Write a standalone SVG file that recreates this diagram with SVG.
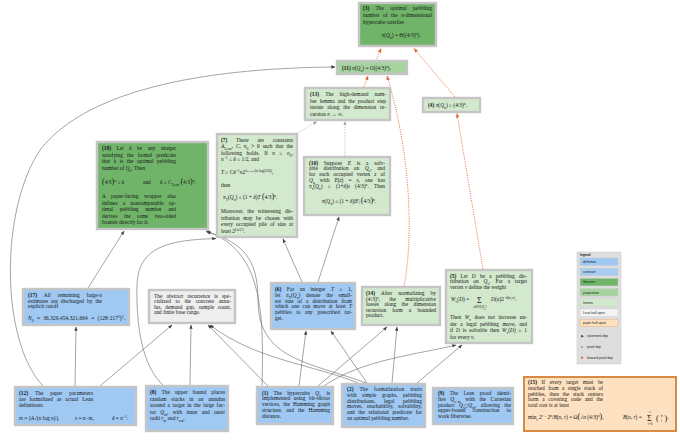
<svg xmlns="http://www.w3.org/2000/svg" width="680" height="440" viewBox="0 0 680 440">
<style>
.t{font-family:"Liberation Serif","Times New Roman",serif;font-size:5.4px;fill:#151515}
.b{font-weight:bold}
.i{font-style:italic}
.sb{font-size:3.7px;baseline-shift:sub}
.sp{font-size:3.7px;baseline-shift:super}
.sm{font-size:3.5px}
.big{font-size:8px}
.box{stroke:#c5c5c5;stroke-width:2.4}
.thm{fill:#70b46a}
.prop{fill:#a6d49e}
.lem{fill:#d3e9ce}
.def{fill:#9fc8f3}
.lean{fill:#eeeeee}
.paper{fill:#fde1c0;stroke:#d98a45;stroke-width:2}
.dep{fill:none;stroke:#585858;stroke-width:0.55;marker-end:url(#ah)}
.fwd{fill:none;stroke:#e4683a;stroke-width:0.95;stroke-dasharray:1 1.3;marker-end:url(#ahr)}
.sd{fill:none;stroke:#b3b3b3;stroke-width:0.7;stroke-dasharray:1.6 1.2;marker-end:url(#ahg)}
.lg{font-family:"Liberation Sans",Arial,sans-serif;font-size:3.3px;fill:#222}
</style>
<defs>
<marker id="ah" viewBox="0 0 10 10" refX="9" refY="5" markerWidth="4.2" markerHeight="4.2" markerUnits="userSpaceOnUse" orient="auto"><path d="M0,1 L10,5 L0,9 z" fill="#444"/></marker>
<marker id="ahr" viewBox="0 0 10 10" refX="9" refY="5" markerWidth="4.6" markerHeight="4.6" markerUnits="userSpaceOnUse" orient="auto"><path d="M0,1 L10,5 L0,9 z" fill="#e4683a"/></marker>
<marker id="ahg" viewBox="0 0 10 10" refX="9" refY="5" markerWidth="4.2" markerHeight="4.2" markerUnits="userSpaceOnUse" orient="auto"><path d="M0,1 L10,5 L0,9 z" fill="#a8a8a8"/></marker>
</defs>
<rect x="0" y="0" width="680" height="440" fill="#ffffff"/>

<g id="connectors">
<path class="fwd" d="M376,61 L381,48.5"/>
<path class="fwd" d="M455,97 L414,48.5"/>
<path class="fwd" d="M364,87 L368,76"/>
<path class="fwd" d="M404,286 C414,235 410,150 387,76"/>
<path class="fwd" d="M483,269 L457,113.5"/>
<path class="dep" d="M43,386 C0,340 0,210 40,150 C90,85 220,68 335,67"/>
<path class="dep" d="M75,386 L76,327"/>
<path class="dep" d="M100,386 L172,325"/>
<path class="dep" d="M88,288 L124,231"/>
<path class="dep" d="M190,385 L191,325"/>
<path class="dep" d="M268,386 L208,325"/>
<path class="dep" d="M358,383 C315,365 255,360 210,325"/>
<path class="dep" d="M262,386 C264,310 262,250 206,231"/>
<path class="dep" d="M366,383 C310,362 258,360 258,300 C258,258 242,242 207,232"/>
<path class="dep" d="M164,386 C141,366 136,322 137,285 C138,247 168,240 216,238.5"/>
<path class="dep" d="M299,386 L306,331"/>
<path class="dep" d="M367,383 L331,331"/>
<path class="dep" d="M318,386 L387,327"/>
<path class="dep" d="M392,383 L397,327"/>
<path class="dep" d="M324,386 C360,360 420,354 456,345"/>
<path class="dep" d="M417,383 L462,345"/>
<path class="dep" d="M302,282 L283,239"/>
<path class="dep" d="M318,282 L339,217"/>
<path class="sd" d="M296,134 L317,121.5"/>
<path class="sd" d="M345,156 L345,121.5"/>
</g>

<g id="n3">
<rect class="box thm" x="359" y="3" width="77" height="43"/>
<text class="t" x="363" y="9.5" word-spacing="5" textLength="69" lengthAdjust="spacing"><tspan class="b">(3)</tspan> The optimal pebbling</text>
<text class="t" x="363" y="16.8" word-spacing="2.2" textLength="69" lengthAdjust="spacing">number of the <tspan class="i">n</tspan>-dimensional</text>
<text class="t" x="363" y="24">hypercube satisfies</text>
<text class="t" x="401" y="37" text-anchor="middle"><tspan class="i">π</tspan>(<tspan class="i">Q</tspan><tspan class="sb">n</tspan>) = Θ((4/3)<tspan class="sp">n</tspan>).</text>
</g>

<g id="n11">
<rect class="box prop" x="337" y="61" width="70" height="13"/>
<text class="t" x="342" y="69.8"><tspan class="b">(11)</tspan>  <tspan class="i">π</tspan>(<tspan class="i">Q</tspan><tspan class="sb">n</tspan>) = <tspan class="i">O</tspan>((4/3)<tspan class="sp">n</tspan>).</text>
</g>

<g id="n13">
<rect class="box lem" x="305" y="88" width="85" height="32"/>
<text class="t" x="310" y="96" word-spacing="4.9" textLength="76" lengthAdjust="spacing"><tspan class="b">(13)</tspan> The high-demand num-</text>
<text class="t" x="310" y="102.5" word-spacing="1.6" textLength="76" lengthAdjust="spacing">ber lemma and the product step</text>
<text class="t" x="310" y="109" word-spacing="2.5" textLength="76" lengthAdjust="spacing">iterate along the dimension re-</text>
<text class="t" x="310" y="115.5">cursion <tspan class="i">n</tspan> → ∞.</text>
</g>

<g id="n4">
<rect class="box lem" x="423" y="98" width="57" height="14"/>
<text class="t" x="428" y="107"><tspan class="b">(4)</tspan>  <tspan class="i">π</tspan>(<tspan class="i">Q</tspan><tspan class="sb">n</tspan>) ≥ (4/3)<tspan class="sp">n</tspan>.</text>
</g>

<g id="n18">
<rect class="box thm" x="97" y="142" width="111" height="87"/>
<text class="t" x="102" y="150" word-spacing="4.1" textLength="74" lengthAdjust="spacing"><tspan class="b">(18)</tspan> Let <tspan class="i">k</tspan> be any integer</text>
<text class="t" x="102" y="156.6" word-spacing="2.7" textLength="74" lengthAdjust="spacing">satisfying the formal predicate</text>
<text class="t" x="102" y="163.2" word-spacing="2.2" textLength="74" lengthAdjust="spacing">that <tspan class="i">k</tspan> is the optimal pebbling</text>
<text class="t" x="102" y="169.8">number of <tspan class="i">Q</tspan><tspan class="sb">n</tspan>. Then</text>
<text class="t" x="102" y="184"><tspan class="big">(</tspan>4/3<tspan class="big">)</tspan><tspan class="sp">n</tspan> ≤ <tspan class="i">k</tspan></text>
<text class="t" x="143" y="184">and</text>
<text class="t" x="160" y="184"><tspan class="i">k</tspan> ≤ <tspan class="i">C</tspan><tspan class="sb">Lean</tspan> <tspan class="big">(</tspan>4/3<tspan class="big">)</tspan><tspan class="sp">n</tspan>.</text>
<text class="t" x="102" y="198" word-spacing="4.1" textLength="74" lengthAdjust="spacing">A paper-facing wrapper also</text>
<text class="t" x="102" y="204.6" word-spacing="3.8" textLength="74" lengthAdjust="spacing">defines a noncomputable op-</text>
<text class="t" x="102" y="211.2" word-spacing="5.2" textLength="74" lengthAdjust="spacing">timal pebbling number and</text>
<text class="t" x="102" y="217.8" word-spacing="5.1" textLength="74" lengthAdjust="spacing">derives the same two-sided</text>
<text class="t" x="102" y="224.4">bounds directly for it.</text>
</g>

<g id="n7">
<rect class="box lem" x="217" y="134" width="80" height="103"/>
<text class="t" x="221" y="141.5" word-spacing="7.4" textLength="72" lengthAdjust="spacing"><tspan class="b">(7)</tspan> There are constants</text>
<text class="t" x="221" y="148" word-spacing="1.5" textLength="72" lengthAdjust="spacing"><tspan class="i">A</tspan><tspan class="sb">Lean</tspan>, <tspan class="i">C</tspan>, <tspan class="i">n</tspan><tspan class="sb">0</tspan> &gt; 0 such that the</text>
<text class="t" x="221" y="154.5" word-spacing="3.2" textLength="72" lengthAdjust="spacing">following holds. If <tspan class="i">n</tspan> ≥ <tspan class="i">n</tspan><tspan class="sb">0</tspan>,</text>
<text class="t" x="221" y="161"><tspan class="i">n</tspan><tspan class="sp">−1</tspan> ≤ <tspan class="i">δ</tspan> ≤ 1/2, and</text>
<text class="t" x="221" y="174"><tspan class="i">T</tspan> ≥ <tspan class="i">Cδ</tspan><tspan class="sp">−1</tspan><tspan class="i">n</tspan>2<tspan class="sp">A<tspan font-size="2.6px">Lean</tspan>√(n log(2/δ))</tspan>,</text>
<text class="t" x="221" y="186.5">then</text>
<text class="t" x="223" y="199"><tspan class="i">π</tspan><tspan class="sb">T</tspan>(<tspan class="i">Q</tspan><tspan class="sb">n</tspan>) ≤ (1 + <tspan class="i">δ</tspan>)<tspan class="i">T</tspan> <tspan class="big">(</tspan>4/3<tspan class="big">)</tspan><tspan class="sp">n</tspan>.</text>
<text class="t" x="221" y="213" word-spacing="2.5" textLength="72" lengthAdjust="spacing">Moreover, the witnessing dis-</text>
<text class="t" x="221" y="219.5" word-spacing="2.2" textLength="72" lengthAdjust="spacing">tribution may be chosen with</text>
<text class="t" x="221" y="226" word-spacing="1.8" textLength="72" lengthAdjust="spacing">every occupied pile of size at</text>
<text class="t" x="221" y="232.5">least 2<tspan class="sp">⌈n/2⌉</tspan>.</text>
</g>

<g id="n10">
<rect class="box lem" x="304" y="157" width="86" height="58"/>
<text class="t" x="309" y="164.5" word-spacing="4.4" textLength="76" lengthAdjust="spacing"><tspan class="b">(10)</tspan> Suppose <tspan class="i">E</tspan> is a solv-</text>
<text class="t" x="309" y="170.4" word-spacing="4.1" textLength="76" lengthAdjust="spacing">able distribution on <tspan class="i">Q</tspan><tspan class="sb">n</tspan>, and</text>
<text class="t" x="309" y="176.3" word-spacing="2.7" textLength="76" lengthAdjust="spacing">for each occupied vertex <tspan class="i">z</tspan> of</text>
<text class="t" x="309" y="182.2" word-spacing="3.7" textLength="76" lengthAdjust="spacing"><tspan class="i">Q</tspan><tspan class="sb">n</tspan> with <tspan class="i">E</tspan>(<tspan class="i">z</tspan>) = <tspan class="i">s</tspan>, one has</text>
<text class="t" x="309" y="188.1" word-spacing="3.9" textLength="76" lengthAdjust="spacing"><tspan class="i">π</tspan><tspan class="sb">s</tspan>(<tspan class="i">Q</tspan><tspan class="sb">n</tspan>) ≤ (1+<tspan class="i">δ</tspan>)<tspan class="i">s</tspan> (4/3)<tspan class="sp">n</tspan>. Then</text>
<text class="t" x="349" y="202.5" text-anchor="middle"><tspan class="i">π</tspan>(<tspan class="i">Q</tspan><tspan class="sb">n</tspan>) ≤ (1 + <tspan class="i">δ</tspan>)|<tspan class="i">E</tspan>| <tspan class="big">(</tspan>4/3<tspan class="big">)</tspan><tspan class="sp">n</tspan>.</text>
</g>

<g id="n17">
<rect class="box def" x="23" y="289" width="106" height="36"/>
<text class="t" x="28" y="297" word-spacing="5.6" textLength="74" lengthAdjust="spacing"><tspan class="b">(17)</tspan> All remaining large-<tspan class="i">n</tspan></text>
<text class="t" x="28" y="302.6" word-spacing="1.6" textLength="74" lengthAdjust="spacing">estimates are discharged by the</text>
<text class="t" x="28" y="308.2">explicit cutoff</text>
<text class="t" x="28" y="319.5" word-spacing="1.9" textLength="97" lengthAdjust="spacing"><tspan class="i">N</tspan><tspan class="sb">0</tspan> = 36,329,454,321,664 = (128·217<tspan class="sp">2</tspan>)<tspan class="sp">2</tspan>.</text>
</g>

<g id="n19">
<rect class="box lean" x="149" y="290" width="86" height="33"/>
<text class="t" x="154" y="297.5" word-spacing="2.7" textLength="77" lengthAdjust="spacing">The abstract recurrence is spe-</text>
<text class="t" x="154" y="303" word-spacing="3.3" textLength="77" lengthAdjust="spacing">cialized to the concrete annu-</text>
<text class="t" x="154" y="308.5" word-spacing="2.3" textLength="77" lengthAdjust="spacing">lus, demand gap, sample count,</text>
<text class="t" x="154" y="314">and finite base range.</text>
</g>

<g id="n6">
<rect class="box def" x="271" y="283" width="84" height="46"/>
<text class="t" x="275" y="291" word-spacing="4.2" textLength="77" lengthAdjust="spacing"><tspan class="b">(6)</tspan> For an integer <tspan class="i">T</tspan> ≥ 1,</text>
<text class="t" x="275" y="296.8" word-spacing="4.4" textLength="77" lengthAdjust="spacing">let <tspan class="i">π</tspan><tspan class="sb">T</tspan>(<tspan class="i">Q</tspan><tspan class="sb">n</tspan>) denote the small-</text>
<text class="t" x="275" y="302.6" word-spacing="2.7" textLength="77" lengthAdjust="spacing">est size of a distribution from</text>
<text class="t" x="275" y="308.4" word-spacing="1.9" textLength="77" lengthAdjust="spacing">which one can move at least <tspan class="i">T</tspan></text>
<text class="t" x="275" y="314.2" word-spacing="3.3" textLength="77" lengthAdjust="spacing">pebbles to any prescribed tar-</text>
<text class="t" x="275" y="320">get.</text>
</g>

<g id="n14">
<rect class="box lem" x="362" y="287" width="78" height="38"/>
<text class="t" x="366" y="295" word-spacing="4.7" textLength="70" lengthAdjust="spacing"><tspan class="b">(14)</tspan> After normalizing by</text>
<text class="t" x="366" y="300.6" word-spacing="7.9" textLength="70" lengthAdjust="spacing">(4/3)<tspan class="sp">n</tspan>, the multiplicative</text>
<text class="t" x="366" y="306.2" word-spacing="4" textLength="70" lengthAdjust="spacing">losses along the dimension</text>
<text class="t" x="366" y="311.8" word-spacing="4.8" textLength="70" lengthAdjust="spacing">recursion form a bounded</text>
<text class="t" x="366" y="317.4">product.</text>
</g>

<g id="n5">
<rect class="box lem" x="446" y="270" width="86" height="73"/>
<text class="t" x="450" y="277.5" word-spacing="2.8" textLength="77" lengthAdjust="spacing"><tspan class="b">(5)</tspan> Let <tspan class="i">D</tspan> be a pebbling dis-</text>
<text class="t" x="450" y="283.3" word-spacing="3.4" textLength="77" lengthAdjust="spacing">tribution on <tspan class="i">Q</tspan><tspan class="sb">n</tspan>. For a target</text>
<text class="t" x="450" y="289.1">vertex <tspan class="i">v</tspan> define the weight</text>
<text class="t" x="451" y="301"><tspan class="i">W</tspan><tspan class="sb">v</tspan>(<tspan class="i">D</tspan>) =</text>
<text class="t big" x="477" y="302.5">Σ</text>
<text class="t sm" x="480" y="307.5" text-anchor="middle"><tspan class="i">u</tspan>∈<tspan class="i">V</tspan>(<tspan class="i">Q</tspan><tspan font-size="2.6px" baseline-shift="sub">n</tspan>)</text>
<text class="t" x="491" y="301"><tspan class="i">D</tspan>(<tspan class="i">u</tspan>)2<tspan class="sp">−d(u,v)</tspan>.</text>
<text class="t" x="450" y="319" word-spacing="2.2" textLength="77" lengthAdjust="spacing">Then <tspan class="i">W</tspan><tspan class="sb">v</tspan> does not increase un-</text>
<text class="t" x="450" y="325.5" word-spacing="2.1" textLength="77" lengthAdjust="spacing">der a legal pebbling move, and</text>
<text class="t" x="450" y="332" word-spacing="1.4" textLength="77" lengthAdjust="spacing">if <tspan class="i">D</tspan> is solvable then <tspan class="i">W</tspan><tspan class="sb">v</tspan>(<tspan class="i">D</tspan>) ≥ 1</text>
<text class="t" x="450" y="338.5">for every <tspan class="i">v</tspan>.</text>
</g>

<g id="legend">
<rect x="577" y="252" width="44" height="112" fill="#dedede" stroke="#cdcdcd" stroke-width="0.6"/>
<text class="lg" x="580" y="256.3" font-weight="bold">legend</text>
<rect x="580" y="258" width="38" height="7.5" fill="#9fc8f3" stroke="#c8c8c8" stroke-width="0.4"/>
<text class="lg" x="583" y="263">definition</text>
<rect x="580" y="268.2" width="38" height="7.5" fill="#a8ccf2" stroke="#c8c8c8" stroke-width="0.4"/>
<text class="lg" x="583" y="273.2">constant</text>
<rect x="580" y="278.4" width="38" height="7.5" fill="#70b46a" stroke="#c8c8c8" stroke-width="0.4"/>
<text class="lg" x="583" y="283.4">theorem</text>
<rect x="580" y="288.6" width="38" height="7.5" fill="#a6d49e" stroke="#c8c8c8" stroke-width="0.4"/>
<text class="lg" x="583" y="293.6">proposition</text>
<rect x="580" y="298.8" width="38" height="7.5" fill="#d3e9ce" stroke="#c8c8c8" stroke-width="0.4"/>
<text class="lg" x="583" y="303.8">lemma</text>
<rect x="580" y="309" width="38" height="7.5" fill="#f4f4f4" stroke="#c8c8c8" stroke-width="0.4"/>
<text class="lg" x="583" y="314">Lean half-open</text>
<rect x="580" y="319.2" width="38" height="7.5" fill="#fde1c0" stroke="#e0a070" stroke-width="0.4"/>
<text class="lg" x="583" y="324.2">paper half-open</text>
<path d="M581,334.8 L584,336.2 L581,337.6 z" fill="#444"/>
<text class="lg" x="587" y="337.4">statement dep</text>
<path d="M581,345.8 L584,347.2 L581,348.6 z" fill="#a8a8a8"/>
<text class="lg" x="587" y="348.4">proof dep</text>
<path d="M581,356.3 L584,357.7 L581,359.1 z" fill="#e4683a"/>
<text class="lg" x="587" y="358.9">forward proof dep</text>
</g>

<g id="n12">
<rect class="box def" x="15" y="387" width="121" height="38"/>
<text class="t" x="19" y="394.5" word-spacing="5.6" textLength="74" lengthAdjust="spacing"><tspan class="b">(12)</tspan> The paper parameters</text>
<text class="t" x="19" y="400.8" word-spacing="2.6" textLength="74" lengthAdjust="spacing">are formalized as actual Lean</text>
<text class="t" x="19" y="407.1">definitions:</text>
<text class="t" x="19" y="420"><tspan class="i">m</tspan> = ⌈<tspan class="i">A</tspan>√(<tspan class="i">n</tspan> log <tspan class="i">n</tspan>)⌉,</text>
<text class="t" x="75" y="420"><tspan class="i">s</tspan> = <tspan class="i">n</tspan>−<tspan class="i">m</tspan>,</text>
<text class="t" x="112" y="420"><tspan class="i">δ</tspan> = <tspan class="i">n</tspan><tspan class="sp">−1</tspan>.</text>
</g>

<g id="n8">
<rect class="box def" x="146" y="386" width="82" height="45"/>
<text class="t" x="150" y="394" word-spacing="3.9" textLength="75" lengthAdjust="spacing"><tspan class="b">(8)</tspan> The upper bound places</text>
<text class="t" x="150" y="400.6" word-spacing="3.4" textLength="75" lengthAdjust="spacing">random stacks in an annulus</text>
<text class="t" x="150" y="407.2" word-spacing="1.2" textLength="75" lengthAdjust="spacing">around a target in the large fac-</text>
<text class="t" x="150" y="413.8" word-spacing="2.9" textLength="75" lengthAdjust="spacing">tor <tspan class="i">Q</tspan><tspan class="sb">m</tspan>, with inner and outer</text>
<text class="t" x="150" y="420.4">radii <tspan class="i">r</tspan><tspan class="sb">in</tspan> and <tspan class="i">r</tspan><tspan class="sb">out</tspan>.</text>
</g>

<g id="n1">
<rect class="box def" x="257" y="387" width="76" height="37"/>
<text class="t" x="262" y="394.5" word-spacing="4" textLength="68" lengthAdjust="spacing"><tspan class="b">(1)</tspan> The hypercube <tspan class="i">Q</tspan><tspan class="sb">n</tspan> is</text>
<text class="t" x="262" y="400.3" word-spacing="2.2" textLength="68" lengthAdjust="spacing">implemented using bit-vector</text>
<text class="t" x="262" y="406.1" word-spacing="1.8" textLength="68" lengthAdjust="spacing">vertices, the Hamming graph</text>
<text class="t" x="262" y="411.9" word-spacing="2.6" textLength="68" lengthAdjust="spacing">structure, and the Hamming</text>
<text class="t" x="262" y="417.7">distance.</text>
</g>

<g id="n2">
<rect class="box def" x="342" y="384" width="83" height="43"/>
<text class="t" x="347" y="391" word-spacing="4.5" textLength="75" lengthAdjust="spacing"><tspan class="b">(2)</tspan> The formalization starts</text>
<text class="t" x="347" y="396.8" word-spacing="4.1" textLength="75" lengthAdjust="spacing">with simple graphs, pebbling</text>
<text class="t" x="347" y="402.6" word-spacing="7.3" textLength="75" lengthAdjust="spacing">distributions, legal pebbling</text>
<text class="t" x="347" y="408.4" word-spacing="3.1" textLength="75" lengthAdjust="spacing">moves, reachability, solvability,</text>
<text class="t" x="347" y="414.2" word-spacing="2.2" textLength="75" lengthAdjust="spacing">and the relational predicate for</text>
<text class="t" x="347" y="420">an optimal pebbling number.</text>
</g>

<g id="n9">
<rect class="box def" x="433" y="388" width="80" height="36"/>
<text class="t" x="438" y="395" word-spacing="4.1" textLength="73" lengthAdjust="spacing"><tspan class="b">(9)</tspan> The Lean proof identi-</text>
<text class="t" x="438" y="400.8" word-spacing="3.2" textLength="73" lengthAdjust="spacing">fies <tspan class="i">Q</tspan><tspan class="sb">s+m</tspan> with the Cartesian</text>
<text class="t" x="438" y="406.6" word-spacing="3" textLength="73" lengthAdjust="spacing">product <tspan class="i">Q</tspan><tspan class="sb">s</tspan><tspan font-family="DejaVu Sans" font-size="4px">□</tspan><tspan class="i">Q</tspan><tspan class="sb">m</tspan>, allowing the</text>
<text class="t" x="438" y="412.4" word-spacing="5.9" textLength="73" lengthAdjust="spacing">upper-bound construction to</text>
<text class="t" x="438" y="418.2">work fiberwise.</text>
</g>

<g id="n15">
<rect class="box paper" x="524" y="377" width="152" height="54"/>
<text class="t" x="528" y="384" word-spacing="3.2" textLength="75" lengthAdjust="spacing"><tspan class="b">(15)</tspan> If every target must be</text>
<text class="t" x="528" y="389.8" word-spacing="2" textLength="75" lengthAdjust="spacing">reached from a single stack of</text>
<text class="t" x="528" y="395.6" word-spacing="2.4" textLength="75" lengthAdjust="spacing">pebbles, then the stack centers</text>
<text class="t" x="528" y="401.4" word-spacing="2.4" textLength="75" lengthAdjust="spacing">form a covering code and the</text>
<text class="t" x="528" y="407.2">total cost is at least</text>
<text class="t" x="528" y="419">min<tspan class="sb">r</tspan> 2<tspan class="sp">r</tspan> · 2<tspan class="sp">n</tspan>/<tspan class="i">B</tspan>(<tspan class="i">n</tspan>, <tspan class="i">r</tspan>) = Ω<tspan class="big">(</tspan>√<tspan class="i">n</tspan> (4/3)<tspan class="sp">n</tspan><tspan class="big">)</tspan>,</text>
<text class="t" x="623" y="419"><tspan class="i">B</tspan>(<tspan class="i">n</tspan>, <tspan class="i">r</tspan>) =</text>
<text class="t big" x="647" y="420.5">Σ</text>
<text class="t sm" x="650" y="413" text-anchor="middle"><tspan class="i">r</tspan></text>
<text class="t sm" x="650" y="425" text-anchor="middle"><tspan class="i">i</tspan>=0</text>
<text class="t big" x="656" y="420.5">(</text>
<text class="t sm" x="661.5" y="416.5" text-anchor="middle"><tspan class="i">n</tspan></text>
<text class="t sm" x="661.5" y="422" text-anchor="middle"><tspan class="i">i</tspan></text>
<text class="t big" x="664.5" y="420.5">)</text>
<text class="t" x="667.5" y="419">.</text>
</g>
</svg>
